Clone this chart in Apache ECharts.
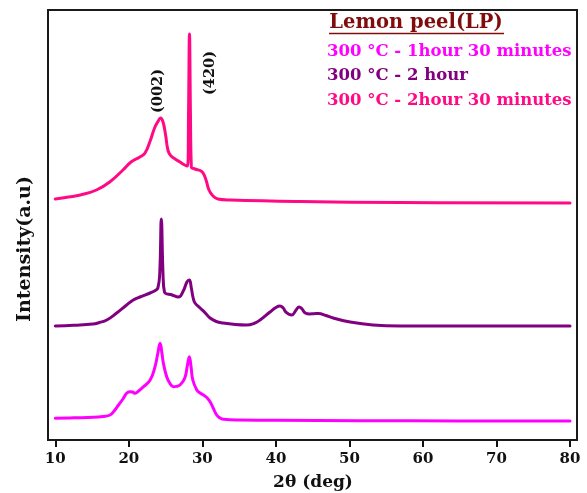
<!DOCTYPE html>
<html>
<head>
<meta charset="utf-8">
<script src="https://cdn.jsdelivr.net/npm/echarts@6/dist/echarts.min.js"></script>
<style>html,body{margin:0;padding:0;background:#fff}#c{width:587px;height:493px}</style>
</head>
<body>
<div id="c"></div>
<script>
// 2θ (deg) tick labels
var xTicks = [10, 20, 30, 40, 50, 60, 70, 80];

// Series names
var seriesNames = ['300 °C - 1hour 30 minutes', '300 °C - 2 hour', '300 °C - 2hour 30 minutes'];

// Vertical offsets (a.u.) used to stack the patterns
var offsets = [19, 114, 237];

// 300 °C - 1hour 30 minutes  [2θ, intensity a.u.]
var s1h30 = [
  [10.0, 2.7], [12.5, 3.2], [15.2, 3.7], [16.5, 4.6], [17.45, 6], [18.0, 10], [18.6, 16], [19.2, 22], [19.7, 27.7],
  [20.15, 29.3], [20.5, 29], [20.85, 27.7], [21.4, 30.5], [22.0, 34.3], [22.9, 41], [23.55, 54], [23.95, 68],
  [24.25, 77.7], [24.5, 68], [24.7, 57.7], [25.15, 44.3], [25.6, 37.5], [26.05, 34.3], [26.5, 34.6], [26.95, 36],
  [27.6, 42.7], [27.95, 55], [28.23, 64.3], [28.45, 55], [28.7, 41], [29.25, 31], [29.7, 28], [30.15, 26],
  [30.6, 23.5], [31.05, 19.3], [31.5, 12.5], [31.95, 6], [32.4, 3], [32.85, 1.7], [35.1, 1], [40, 0.8],
  [51.45, 0.3], [65, 0.1], [80, 0]
];

// 300 °C - 2 hour  [2θ, intensity a.u.]
var s2h = [
  [10.0, 0], [12.5, 0.8], [15.1, 2], [16.0, 3.5], [17.0, 6], [18.35, 13], [19.7, 21], [20.6, 26], [21.5, 29],
  [22.9, 33], [23.6, 35.5], [23.95, 38], [24.2, 52], [24.42, 107], [24.65, 52], [24.85, 34], [25.9, 31],
  [26.75, 29], [27.4, 35], [27.9, 44], [28.23, 46], [28.5, 38], [28.75, 28], [29.0, 23], [29.7, 18], [30.4, 13],
  [31.05, 8], [31.9, 4.5], [32.8, 3], [34.5, 1.5], [36.0, 1], [37.0, 2.5], [37.85, 6], [39.2, 14], [40.0, 18.5],
  [40.55, 20], [41.0, 18], [41.35, 14], [42.15, 11], [42.75, 16], [43.15, 19], [43.5, 17.5], [44.0, 13],
  [44.6, 12], [45.2, 12.3], [45.8, 12.5], [46.8, 10.5], [47.8, 8], [50.1, 4], [53.2, 1], [56.9, 0], [80, 0]
];

// 300 °C - 2hour 30 minutes  [2θ, intensity a.u.]
var s2h30 = [
  [10.0, 4], [11.8, 6], [13.4, 8], [15.6, 13], [17.4, 21], [19.2, 33], [20.3, 41], [21.5, 46], [22.2, 50],
  [22.9, 62], [23.5, 75], [24.0, 82], [24.3, 85], [24.65, 81], [25.0, 68], [25.35, 52], [25.75, 47], [26.3, 44],
  [26.95, 41], [27.6, 38], [28.0, 37], [28.12, 90], [28.25, 169], [28.38, 90], [28.5, 36], [29.0, 34],
  [29.7, 32.5], [30.1, 30], [30.5, 23], [30.9, 13], [31.45, 7], [32.1, 4], [33.8, 3], [43.3, 1.5],
  [56.9, 0.5], [80, 0]
];

// Peak annotations [label, 2θ]
var peakLabels = [['(002)', 24.3], ['(420)', 28.25]];

var colors = ['#ff00ff', '#800080', '#ff0a84'];
var raw = [s1h30, s2h, s2h30];

function shift(arr, off) { return arr.map(function (p) { return [p[0], p[1] + off]; }); }

var chart = echarts.init(document.getElementById('c'), null, { renderer: 'canvas' });
var serif = '"DejaVu Serif", "Liberation Serif", serif';

var series = raw.map(function (arr, i) {
  return {
    name: seriesNames[i], type: 'line', data: shift(arr, offsets[i]),
    showSymbol: false, smooth: 0.45,
    lineStyle: { color: colors[i], width: 3, join: 'round', cap: 'round' }, z: 3
  };
});

var option = {
  animation: false,
  backgroundColor: '#fff',
  grid: { left: 55.3, right: 17, top: 10, bottom: 53 },
  xAxis: {
    type: 'value', min: xTicks[0], max: xTicks[xTicks.length - 1], interval: 10,
    axisLine: { show: false },
    axisTick: { show: true, length: 7, lineStyle: { color: '#111', width: 2 } },
    splitLine: { show: false },
    axisLabel: { color: '#111', fontFamily: serif, fontWeight: 'bold', fontSize: 15, margin: 12 }
  },
  yAxis: {
    type: 'value', min: 0, max: 430,
    axisLine: { show: false }, axisTick: { show: false }, axisLabel: { show: false }, splitLine: { show: false }
  },
  series: series,
  graphic: [
    { type: 'rect', shape: { x: 48, y: 10, width: 529, height: 430 }, style: { fill: 'none', stroke: '#1a1a1a', lineWidth: 2 }, z: 10 },
    { type: 'text', x: 313, y: 483, style: { text: '2θ (deg)', font: 'bold 17px ' + serif, fill: '#111', align: 'center', verticalAlign: 'middle' } },
    { type: 'text', x: 25, y: 249, rotation: Math.PI / 2, style: { text: 'Intensity(a.u)', font: 'bold 19px ' + serif, fill: '#111', align: 'center', verticalAlign: 'middle' } },
    { type: 'text', x: 416, y: 23, style: { text: 'Lemon peel(LP)', font: 'bold 19.5px ' + serif, fill: '#800d0d', align: 'center', verticalAlign: 'middle' } },
    { type: 'line', shape: { x1: 329, y1: 33.5, x2: 504, y2: 33.5 }, style: { stroke: '#800d0d', lineWidth: 1.5 } },
    { type: 'text', x: 327, y: 52, style: { text: seriesNames[0], font: 'bold 16.5px ' + serif, fill: colors[0], align: 'left', verticalAlign: 'middle' } },
    { type: 'text', x: 327, y: 76, style: { text: seriesNames[1], font: 'bold 16.5px ' + serif, fill: colors[1], align: 'left', verticalAlign: 'middle' } },
    { type: 'text', x: 327, y: 101, style: { text: seriesNames[2], font: 'bold 16.5px ' + serif, fill: colors[2], align: 'left', verticalAlign: 'middle' } }
  ]
};
chart.setOption(option);

// peak labels positioned via the chart's own scale
var extra = peakLabels.map(function (pl, i) {
  var px = chart.convertToPixel({ xAxisIndex: 0, yAxisIndex: 0 }, [pl[1], 0])[0];
  return { type: 'text', x: px - 2 + (i === 1 ? 23 : 0), y: i === 0 ? 91 : 73, rotation: Math.PI / 2,
    style: { text: pl[0], font: 'bold 14.5px ' + serif, fill: '#111', align: 'center', verticalAlign: 'middle' } };
});
chart.setOption({ graphic: option.graphic.concat(extra) });
</script>
</body>
</html>
